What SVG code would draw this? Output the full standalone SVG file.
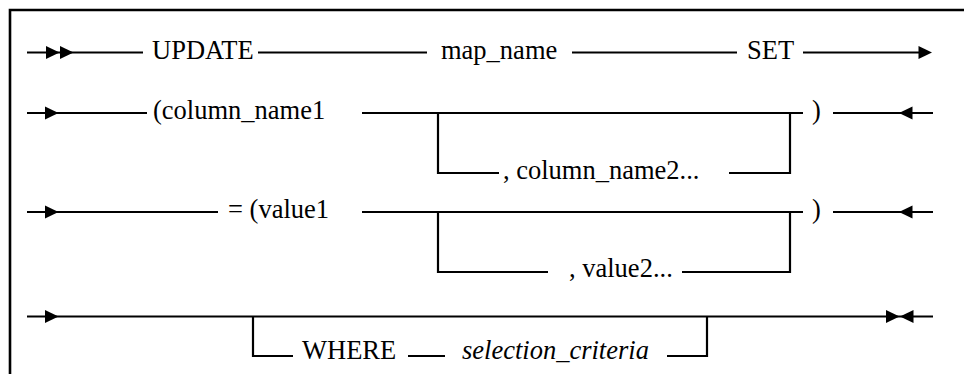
<svg xmlns="http://www.w3.org/2000/svg" xmlns:xlink="http://www.w3.org/1999/xlink" width="964" height="374" viewBox="0 0 964 374">
  <style>
    .t { font-family: "Liberation Serif", Tinos, "Nimbus Roman", "Nimbus Roman No9 L", "Times New Roman", Times, "DejaVu Serif", "Noto Serif", FreeSerif, serif; font-size: 26.5px; fill: #000; }
    .it { font-style: italic; }
    .c { fill: none; stroke: #000; stroke-width: 2.2; }
    .frame { fill: none; stroke: #000; stroke-width: 2.6; }
    .ah { fill: #000; }
  </style>
  <defs>
    <path id="tr" class="ah" d="M0,-6.5 L13.5,0 L0,6.5 Z"/>
    <path id="tl" class="ah" d="M0,-6.5 L-13.5,0 L0,6.5 Z"/>
  </defs>
  <rect width="964" height="374" fill="#fff"/>
  <path class="frame" d="M10,376 V10 H966"/>

  <g id="connectors">
    <!-- row 1 -->
    <path class="c" d="M27,52.5 H143 M258,52.5 H427 M572,52.5 H737 M803,52.5 H920"/>
    <use xlink:href="#tr" x="46" y="52.5"/>
    <use xlink:href="#tr" x="60" y="52.5"/>
    <use xlink:href="#tr" x="918.5" y="52.5"/>
    <!-- row 2 -->
    <path class="c" d="M27,113 H147 M362,113 H803 M438,113 V173 H499 M729,173 H790 V113 M833,113 H933"/>
    <use xlink:href="#tr" x="45" y="113"/>
    <use xlink:href="#tl" x="912.5" y="113"/>
    <!-- row 3 -->
    <path class="c" d="M27,212 H218 M362,212 H803 M438,212 V272 H548 M682,272 H790 V212 M833,212 H933"/>
    <use xlink:href="#tr" x="45" y="212"/>
    <use xlink:href="#tl" x="912.5" y="212"/>
    <!-- row 4 -->
    <path class="c" d="M27,316.5 H933 M253,316.5 V356 H293 M408,356 H445 M667,356 H707 V316.5"/>
    <use xlink:href="#tr" x="45" y="316.5"/>
    <use xlink:href="#tr" x="886" y="316.5"/>
    <use xlink:href="#tl" x="913.5" y="316.5"/>
  </g>

  <g id="update"><text class="t" x="152" y="59">UPDATE</text></g>
  <g id="map_name"><text class="t" x="441" y="59">map_name</text></g>
  <g id="set"><text class="t" x="747" y="59">SET</text></g>
  <g id="column_name1"><text class="t" x="153" y="119">(column_name1</text></g>
  <g id="column_name2"><text class="t" x="503" y="179">, column_name2...</text></g>
  <g id="close1"><text class="t" x="812" y="119">)</text></g>
  <g id="value1"><text class="t" x="228" y="218">= (value1</text></g>
  <g id="value2"><text class="t" x="569" y="277">, value2...</text></g>
  <g id="close2"><text class="t" x="812" y="218">)</text></g>
  <g id="where"><text class="t" x="302" y="359">WHERE</text></g>
  <g id="selection_criteria"><text class="t it" x="462" y="359">selection_criteria</text></g>
</svg>
